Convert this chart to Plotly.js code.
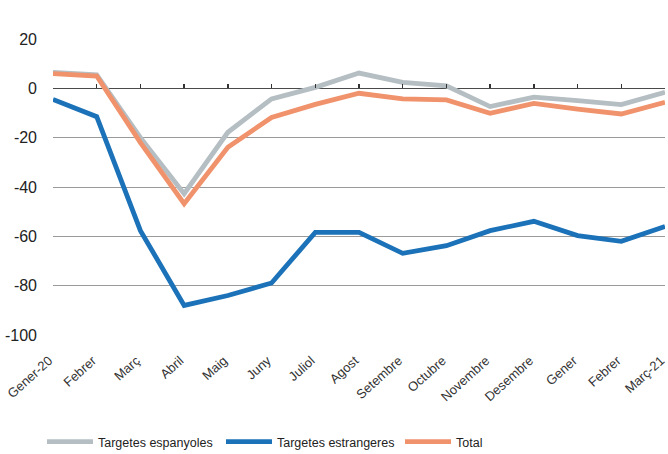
<!DOCTYPE html>
<html>
<head>
<meta charset="utf-8">
<script src="https://cdn.plot.ly/plotly-3.0.1.min.js"></script>
<style>html,body{margin:0;padding:0;background:#fff;}#chart{width:668px;height:454px;}</style>
</head>
<body>
<div id="chart"></div>
<script>
const months = ["Gener-20","Febrer","Març","Abril","Maig","Juny","Juliol","Agost","Setembre","Octubre","Novembre","Desembre","Gener","Febrer","Març-21"];
const espanyoles = [6.5, 5.5, -20, -42.7, -17.8, -4.3, 0.4, 6.2, 2.4, 1, -7.4, -3.6, -5, -6.6, -1.6];
const estrangeres = [-4.5, -11.5, -57.7, -88, -84, -78.9, -58.4, -58.4, -66.9, -63.8, -57.7, -53.9, -59.7, -62, -56];
const total = [6, 5, -22, -46.8, -23.9, -11.8, -6.5, -2, -4.3, -4.7, -10.1, -6.1, -8.4, -10.4, -5.7];
const yTicks = [20, 0, -20, -40, -60, -80, -100];

const idx = months.map((m, i) => i);
const font2 = "'Liberation Sans', Arial, sans-serif";

const traces = [
  {x: idx, y: espanyoles, name: "Targetes espanyoles", type: "scatter", mode: "lines",
   line: {color: "#b5bec2", width: 4.8}},
  {x: idx, y: estrangeres, name: "Targetes estrangeres", type: "scatter", mode: "lines",
   line: {color: "#1b72b8", width: 4.8}},
  {x: idx, y: total, name: "Total", type: "scatter", mode: "lines",
   line: {color: "#f0926b", width: 4.8}},
  {x: idx, y: idx.map(() => null), xaxis: "x2", showlegend: false, hoverinfo: "skip", mode: "lines"}
];

const layout = {
  width: 668, height: 454,
  margin: {l: 53, r: 3, t: 39, b: 119},
  paper_bgcolor: "#fff", plot_bgcolor: "#fff",
  font: {family: font2, color: "#222"},
  showlegend: true,
  legend: {orientation: "h", xref: "container", x: 42/668, xanchor: "left",
           yref: "container", y: 12/454, yanchor: "middle",
           font: {family: font2, size: 12.5, color: "#222"}, itemwidth: 46, tracegroupgap: 0,
           entrywidth: 118, entrywidthmode: "pixels"},
  xaxis: {range: [0, 14], tickmode: "array", tickvals: idx, ticktext: months, automargin: false,
          tickangle: -42, tickfont: {family: font2, size: 13, color: "#333"}, showgrid: false,
          ticklabeloverflow: "allow", ticklabelshift: -4,
          zeroline: false, showline: false, ticks: "outside", ticklen: 12, tickcolor: "rgba(0,0,0,0)"},
  xaxis2: {overlaying: "x", matches: "x", anchor: "free", position: 100/120, side: "bottom",
           range: [0, 14], tickmode: "array", tickvals: idx, showticklabels: false, automargin: false,
           ticks: "inside", ticklen: 4, tickcolor: "#333", tickwidth: 1.5,
           showline: false, showgrid: false, zeroline: false},
  yaxis: {range: [-100, 20], tickmode: "array", tickvals: yTicks, ticktext: yTicks.map(String),
          automargin: false,
          tickfont: {family: font2, size: 16, color: "#222"}, showgrid: true, gridcolor: "#9a9a9a", gridwidth: 1,
          zeroline: true, zerolinecolor: "#4a4a4a", zerolinewidth: 1.5, ticks: "", ticklabelstandoff: 15,
          showline: false}
};

Plotly.newPlot("chart", traces, layout, {displayModeBar: false, staticPlot: true});
</script>
</body>
</html>
